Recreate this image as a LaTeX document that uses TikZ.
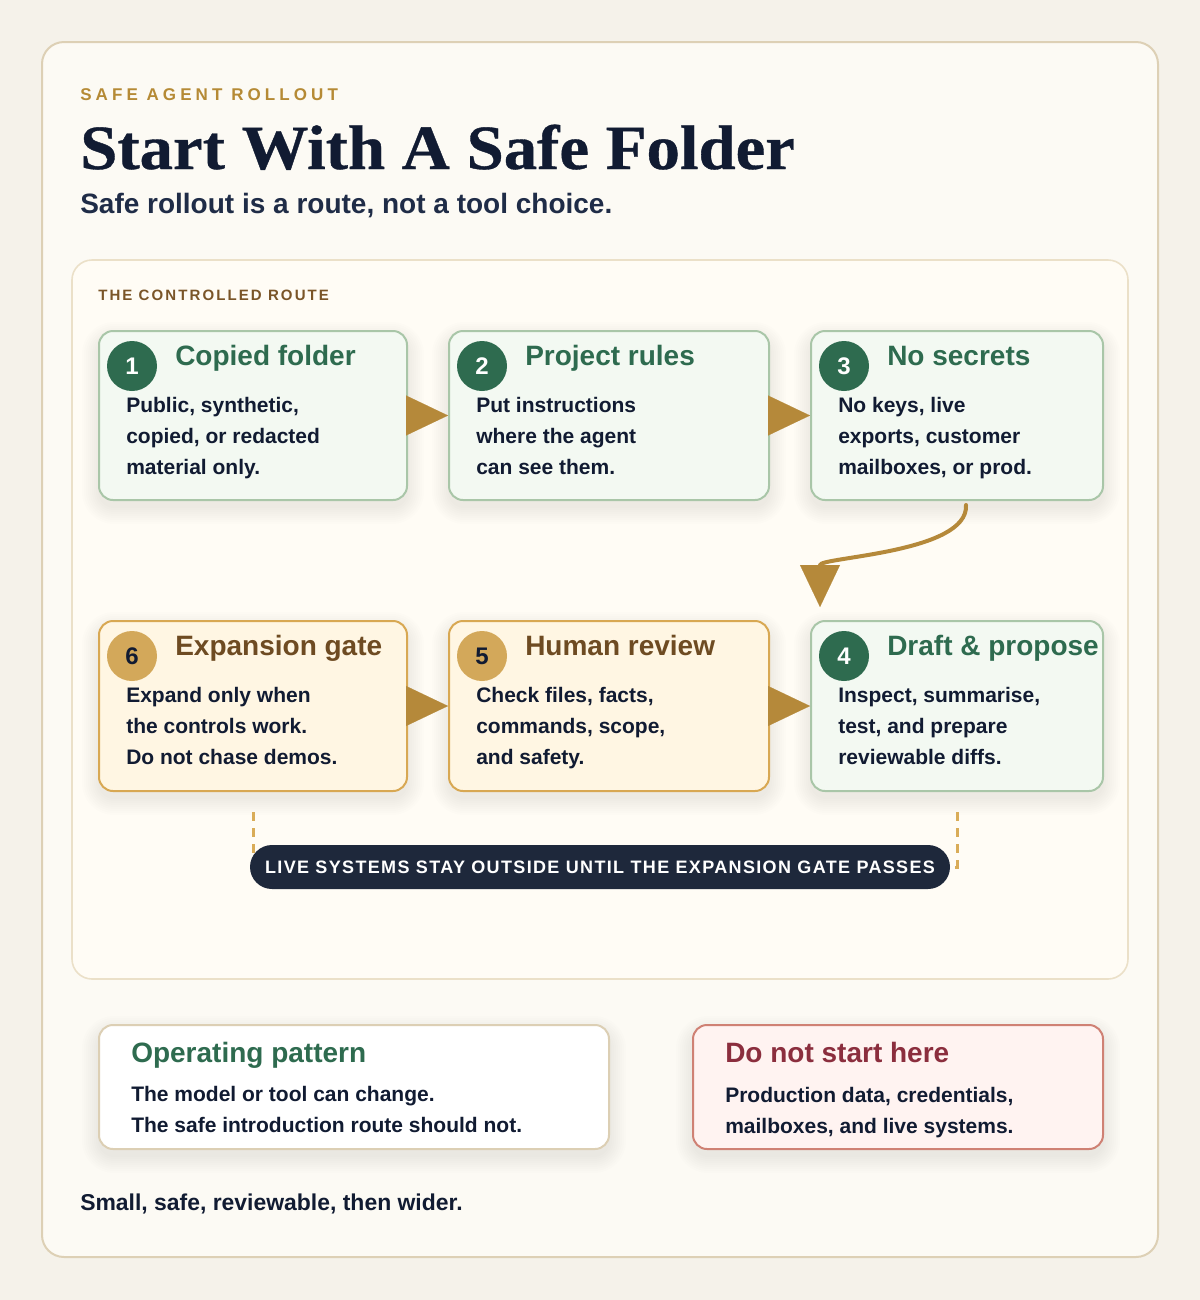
\documentclass[tikz,border=0pt]{standalone}
\usepackage{fontspec}
\setmainfont{Liberation Sans}
\newfontfamily\titlefont{Liberation Serif}[FakeStretch=1.06,FakeBold=0.6]
\usetikzlibrary{arrows.meta,calc}
\definecolor{pagebg}{HTML}{F5F2EA}
\definecolor{cardbg}{HTML}{FCFAF4}
\definecolor{cardline}{HTML}{DDD0B5}
\definecolor{panelbg}{HTML}{FFFCF5}
\definecolor{panelline}{HTML}{EBE0C8}
\definecolor{navy}{HTML}{111B32}
\definecolor{subnavy}{HTML}{1F2C47}
\definecolor{kickergold}{HTML}{B58A35}
\definecolor{routebrown}{HTML}{7A5528}
\definecolor{gdark}{HTML}{2E6B4F}
\definecolor{gfill}{HTML}{F3F9F2}
\definecolor{gline}{HTML}{A9C6A8}
\definecolor{yfill}{HTML}{FFF6E3}
\definecolor{yline}{HTML}{D8A853}
\definecolor{ycircle}{HTML}{D3A85A}
\definecolor{ybrown}{HTML}{6E4B22}
\definecolor{flowgold}{HTML}{B5893A}
\definecolor{pillbg}{HTML}{1E283B}
\definecolor{redtitle}{HTML}{8B2E3E}
\definecolor{redfill}{HTML}{FFF3F1}
\definecolor{redline}{HTML}{CF8174}
\definecolor{dashgold}{HTML}{D9AC58}
\definecolor{opline}{HTML}{DCCFB4}
\pgfdeclarelayer{back}
\pgfdeclarelayer{shade}
\pgfsetlayers{back,shade,main}
\newcommand\softshadow[1]{%
  \begin{pgfonlayer}{shade}
  \foreach \s in {2,4,...,18}{%
    \fill[black,opacity=0.009,rounded corners=10.5pt+\s*0.75pt]
      ($(#1.north west)+(-\s+2,-\s+10)$) rectangle ($(#1.south east)+(\s-2,\s+5)$);
  }
  \end{pgfonlayer}}
\tikzset{
  card/.style={draw, line width=1.5pt, rounded corners=10.5pt, inner sep=0, anchor=north west},
  gbox/.style={card, draw=gline, fill=gfill},
  ybox/.style={card, draw=yline, fill=yfill},
  numdot/.style={circle, minimum size=37.5pt, inner sep=0, font=\bfseries\fontsize{18}{18}\selectfont},
  gnum/.style={numdot, fill=gdark, text=white},
  ynum/.style={numdot, fill=ycircle, text=navy},
  btitle/.style={anchor=base west, inner sep=0, font=\bfseries\fontsize{21}{24}\selectfont},
  bodytext/.style={anchor=base west, inner sep=0, align=left, text=navy,
    font=\bfseries\fontsize{15.75}{23.25}\selectfont},
  flow/.style={draw=flowgold, line width=3pt, -{Triangle[width=30pt,length=31.5pt,line width=0.1pt]}},
  flowc/.style={draw=flowgold, line width=3pt, line cap=round, -{Triangle[width=30pt,length=31.5pt,line width=0.1pt]}},
  gatedash/.style={draw=dashgold, line width=2.25pt, dash pattern=on 7pt off 5pt},
  pill/.style={fill=pillbg, rounded corners=16.5pt, minimum width=525pt, minimum height=33pt, inner sep=0,
    text=white, font=\bfseries\fontsize{13.5}{13.5}\selectfont\addfontfeatures{LetterSpace=7.5}},
}
\begin{document}
\begin{tikzpicture}[x=0.75pt,y=-0.75pt]
\begin{pgfonlayer}{back}
  \fill[pagebg] (0,0) rectangle (1200,1300);
  \draw[cardline, fill=cardbg, line width=1.5pt, rounded corners=16.5pt] (42,42) rectangle (1158,1257);
  \draw[panelline, fill=panelbg, line width=1.2pt, rounded corners=15pt] (72,260) rectangle (1128,979);
\end{pgfonlayer}
\useasboundingbox (0,0) rectangle (1200,1300);

% header
\node[anchor=base west, inner sep=0, text=kickergold,
  font=\bfseries\fontsize{12.75}{15}\selectfont\addfontfeatures{LetterSpace=24}] (kick) at (80,100) {SAFE AGENT ROLLOUT};
\node[anchor=base west, inner sep=0, text=navy,
  font=\titlefont\bfseries\fontsize{47.25}{50}\selectfont] (title) at (80,169) {Start With A Safe Folder};
\node[anchor=base west, inner sep=0, text=subnavy,
  font=\bfseries\fontsize{21}{24}\selectfont] (sub) at (80,213) {Safe rollout is a route, not a tool choice.};
\node[anchor=base west, inner sep=0, text=routebrown,
  font=\bfseries\fontsize{11.25}{13}\selectfont\addfontfeatures{LetterSpace=14}] (route) at (98,300) {THE CONTROLLED ROUTE};

% row 1
\node[gbox, minimum width=231pt, minimum height=126.75pt] (b1) at (98,330) {};
\node[gbox, minimum width=240pt, minimum height=126.75pt] (b2) at (448,330) {};
\node[gbox, minimum width=219pt, minimum height=126.75pt] (b3) at (810,330) {};
% row 2
\node[ybox, minimum width=231pt, minimum height=127.5pt] (b6) at (98,620) {};
\node[ybox, minimum width=240pt, minimum height=127.5pt] (b5) at (448,620) {};
\node[gbox, minimum width=219pt, minimum height=127.5pt] (b4) at (810,620) {};
\foreach \b in {b1,b2,b3,b4,b5,b6}{\softshadow{\b}}

% body nodes: base anchor is the last line, so 3-line bodies sit at 82+62
\node[gnum] (n1) at ($(b1.north west)+(34,36)$) {1};
\node[btitle, text=gdark] (t1) at ($(b1.north west)+(77,35)$) {Copied folder};
\node[bodytext] (d1) at ($(b1.north west)+(28,144)$) {Public, synthetic,\\copied, or redacted\\material only.};

\node[gnum] (n2) at ($(b2.north west)+(34,36)$) {2};
\node[btitle, text=gdark] (t2) at ($(b2.north west)+(77,35)$) {Project rules};
\node[bodytext] (d2) at ($(b2.north west)+(28,144)$) {Put instructions\\where the agent\\can see them.};

\node[gnum] (n3) at ($(b3.north west)+(34,36)$) {3};
\node[btitle, text=gdark] (t3) at ($(b3.north west)+(77,35)$) {No secrets};
\node[bodytext] (d3) at ($(b3.north west)+(28,144)$) {No keys, live\\exports, customer\\mailboxes, or prod.};

\node[ynum] (n6) at ($(b6.north west)+(34,36)$) {6};
\node[btitle, text=ybrown] (t6) at ($(b6.north west)+(77,35)$) {Expansion gate};
\node[bodytext] (d6) at ($(b6.north west)+(28,144)$) {Expand only when\\the controls work.\\Do not chase demos.};

\node[ynum] (n5) at ($(b5.north west)+(34,36)$) {5};
\node[btitle, text=ybrown] (t5) at ($(b5.north west)+(77,35)$) {Human review};
\node[bodytext] (d5) at ($(b5.north west)+(28,144)$) {Check files, facts,\\commands, scope,\\and safety.};

\node[gnum] (n4) at ($(b4.north west)+(34,36)$) {4};
\node[btitle, text=gdark] (t4) at ($(b4.north west)+(77,35)$) {Draft \& propose};
\node[bodytext] (d4) at ($(b4.north west)+(28,144)$) {Inspect, summarise,\\test, and prepare\\reviewable diffs.};

% connectors
\draw[flow] (b1.east) -- (b2.west);
\draw[flow] (b2.east) -- (b3.west);
\draw[flow] (b6.east) -- (b5.west);
\draw[flow] (b5.east) -- (b4.west);
\coordinate (cstart) at ($(b3.south)+(9,4)$);
\coordinate (cend) at ($(b4.north west)+(10,-13)$);
\draw[flowc] (cstart) .. controls ($(cstart)+(3,48)$) and ($(cend)+(0,-50)$) .. (cend);

% gate pill
\node[pill] (pill) at (600,867) {LIVE SYSTEMS STAY OUTSIDE UNTIL THE EXPANSION GATE PASSES};
\begin{pgfonlayer}{shade}
\draw[gatedash] ($(b6.south)+(0,20)$) |- (pill.west);
\draw[gatedash] ($(b4.south)+(0,20)$) |- (pill.east);
\end{pgfonlayer}

% bottom cards
\node[card, draw=opline, fill=white, minimum width=382.5pt, minimum height=93pt] (op) at (98,1024) {};
\node[card, draw=redline, fill=redfill, minimum width=307.5pt, minimum height=93pt] (dn) at (692,1024) {};
\softshadow{op}
\softshadow{dn}
\node[btitle, text=gdark] (opt) at ($(op.north west)+(33,38)$) {Operating pattern};
\node[bodytext] (opd) at ($(op.north west)+(33,108)$) {The model or tool can change.\\The safe introduction route should not.};
\node[btitle, text=redtitle] (dnt) at ($(dn.north west)+(33,38)$) {Do not start here};
\node[bodytext] (dnd) at ($(dn.north west)+(33,109)$) {Production data, credentials,\\mailboxes, and live systems.};

\node[anchor=base west, inner sep=0, text=navy, font=\bfseries\fontsize{17.2}{20}\selectfont] (foot) at (80,1210) {Small, safe, reviewable, then wider.};
\end{tikzpicture}
\end{document}
